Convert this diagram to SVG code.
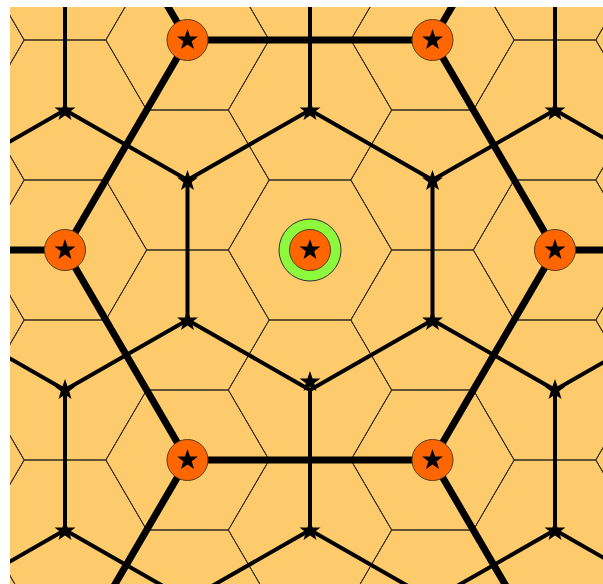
<svg xmlns="http://www.w3.org/2000/svg" xmlns:xlink="http://www.w3.org/1999/xlink" width="603" height="584" viewBox="0 0 603 584">
<style>
.bg{fill:#fdca6c}
.hex{fill:none;stroke:#2e2a1e;stroke-width:1}
.med{stroke:#000;stroke-width:4;fill:none;stroke-linecap:butt}
.thick{stroke:#000;stroke-width:7;fill:none}
.star{fill:#000}
.onode{fill:#ff6600;stroke:#5a3d1e;stroke-width:1}
.ring{fill:#8cf93c;stroke:#333;stroke-width:1}
</style>
<defs>
<clipPath id="clip"><rect x="10" y="7" width="593" height="577"/></clipPath>
<path id="hx" d="M-81.67 0L-40.83 -70L40.83 -70L81.67 0L40.83 70L-40.83 70Z"/>
<path id="st" d="M0 -11L2.586 -3.56L10.462 -3.399L4.185 1.36L6.466 8.899L0 4.4L-6.466 8.899L-4.185 1.36L-10.462 -3.399L-2.586 -3.56Z"/>
</defs>
<rect class="bg" x="10" y="7" width="593" height="577"/>
<g id="tiles" clip-path="url(#clip)" class="hex">
<use xlink:href="#hx" x="65" y="-30"/><use xlink:href="#hx" x="65" y="110"/><use xlink:href="#hx" x="65" y="250"/><use xlink:href="#hx" x="65" y="390"/><use xlink:href="#hx" x="65" y="530"/>
<use xlink:href="#hx" x="310" y="-30"/><use xlink:href="#hx" x="310" y="110"/><use xlink:href="#hx" x="310" y="250"/><use xlink:href="#hx" x="310" y="390"/><use xlink:href="#hx" x="310" y="530"/>
<use xlink:href="#hx" x="555" y="-30"/><use xlink:href="#hx" x="555" y="110"/><use xlink:href="#hx" x="555" y="250"/><use xlink:href="#hx" x="555" y="390"/><use xlink:href="#hx" x="555" y="530"/>
<use xlink:href="#hx" x="-57.5" y="40"/><use xlink:href="#hx" x="-57.5" y="180"/><use xlink:href="#hx" x="-57.5" y="320"/><use xlink:href="#hx" x="-57.5" y="460"/><use xlink:href="#hx" x="-57.5" y="600"/>
<use xlink:href="#hx" x="187.5" y="40"/><use xlink:href="#hx" x="187.5" y="180"/><use xlink:href="#hx" x="187.5" y="320"/><use xlink:href="#hx" x="187.5" y="460"/><use xlink:href="#hx" x="187.5" y="600"/>
<use xlink:href="#hx" x="432.5" y="40"/><use xlink:href="#hx" x="432.5" y="180"/><use xlink:href="#hx" x="432.5" y="320"/><use xlink:href="#hx" x="432.5" y="460"/><use xlink:href="#hx" x="432.5" y="600"/>
<use xlink:href="#hx" x="677.5" y="40"/><use xlink:href="#hx" x="677.5" y="180"/><use xlink:href="#hx" x="677.5" y="320"/><use xlink:href="#hx" x="677.5" y="460"/><use xlink:href="#hx" x="677.5" y="600"/>
</g>
<g id="star-nodes" class="star">
<g id="s1"><use xlink:href="#st" x="65" y="111"/></g>
<g id="s2"><use xlink:href="#st" x="310" y="111"/></g>
<g id="s3"><use xlink:href="#st" x="555" y="111"/></g>
<g id="s4"><use xlink:href="#st" x="187.5" y="181"/></g>
<g id="s5"><use xlink:href="#st" x="432.5" y="181"/></g>
<g id="s6"><use xlink:href="#st" x="187.5" y="321"/></g>
<g id="s7"><use xlink:href="#st" x="432.5" y="321"/></g>
<g id="s8"><use xlink:href="#st" x="310" y="382"/></g>
<g id="s9"><use xlink:href="#st" x="65" y="390"/></g>
<g id="s10"><use xlink:href="#st" x="555" y="390"/></g>
<g id="s11"><use xlink:href="#st" x="65" y="531"/></g>
<g id="s12"><use xlink:href="#st" x="310" y="531"/></g>
<g id="s13"><use xlink:href="#st" x="555" y="531"/></g>
</g>
<g id="connectors" clip-path="url(#clip)">
<path class="med" d="M65 0V110M310 0V110M555 0V110M65 110L187.5 180M-57.5 180L65 110M310 110L187.5 180M310 110L432.5 180M555 110L432.5 180M555 110L677.5 180M187.5 180V320M432.5 180V320M187.5 320L65 390M187.5 320L310 390M432.5 320L310 390M432.5 320L555 390M65 390L-57.5 320M555 390L677.5 320M65 390V530M310 390V530M555 390V530M65 530L-57.5 600M65 530L187.5 600M310 530L187.5 600M310 530L432.5 600M555 530L432.5 600M555 530L677.5 600"/>
<path class="thick" d="M187.5 40H432.5M187.5 40L126.25 -65M187.5 40L65 250M432.5 40L493.75 -65M432.5 40L555 250M65 250H0M555 250H610M65 250L187.5 460M555 250L432.5 460M187.5 460H432.5M187.5 460L95.6 617.5M432.5 460L524.4 617.5"/>
</g>
<g id="circle-nodes">
<g id="c0"><circle class="ring" cx="310" cy="250" r="31"/><circle class="onode" cx="310" cy="250" r="20.5"/><use class="star" xlink:href="#st" x="310" y="250"/></g>
<g id="c1"><circle class="onode" cx="187.5" cy="40" r="20.5"/><use class="star" xlink:href="#st" x="187.5" y="40"/></g>
<g id="c2"><circle class="onode" cx="432.5" cy="40" r="20.5"/><use class="star" xlink:href="#st" x="432.5" y="40"/></g>
<g id="c3"><circle class="onode" cx="65" cy="250" r="20.5"/><use class="star" xlink:href="#st" x="65" y="250"/></g>
<g id="c4"><circle class="onode" cx="555" cy="250" r="20.5"/><use class="star" xlink:href="#st" x="555" y="250"/></g>
<g id="c5"><circle class="onode" cx="187.5" cy="460" r="20.5"/><use class="star" xlink:href="#st" x="187.5" y="460"/></g>
<g id="c6"><circle class="onode" cx="432.5" cy="460" r="20.5"/><use class="star" xlink:href="#st" x="432.5" y="460"/></g>
</g>
</svg>
